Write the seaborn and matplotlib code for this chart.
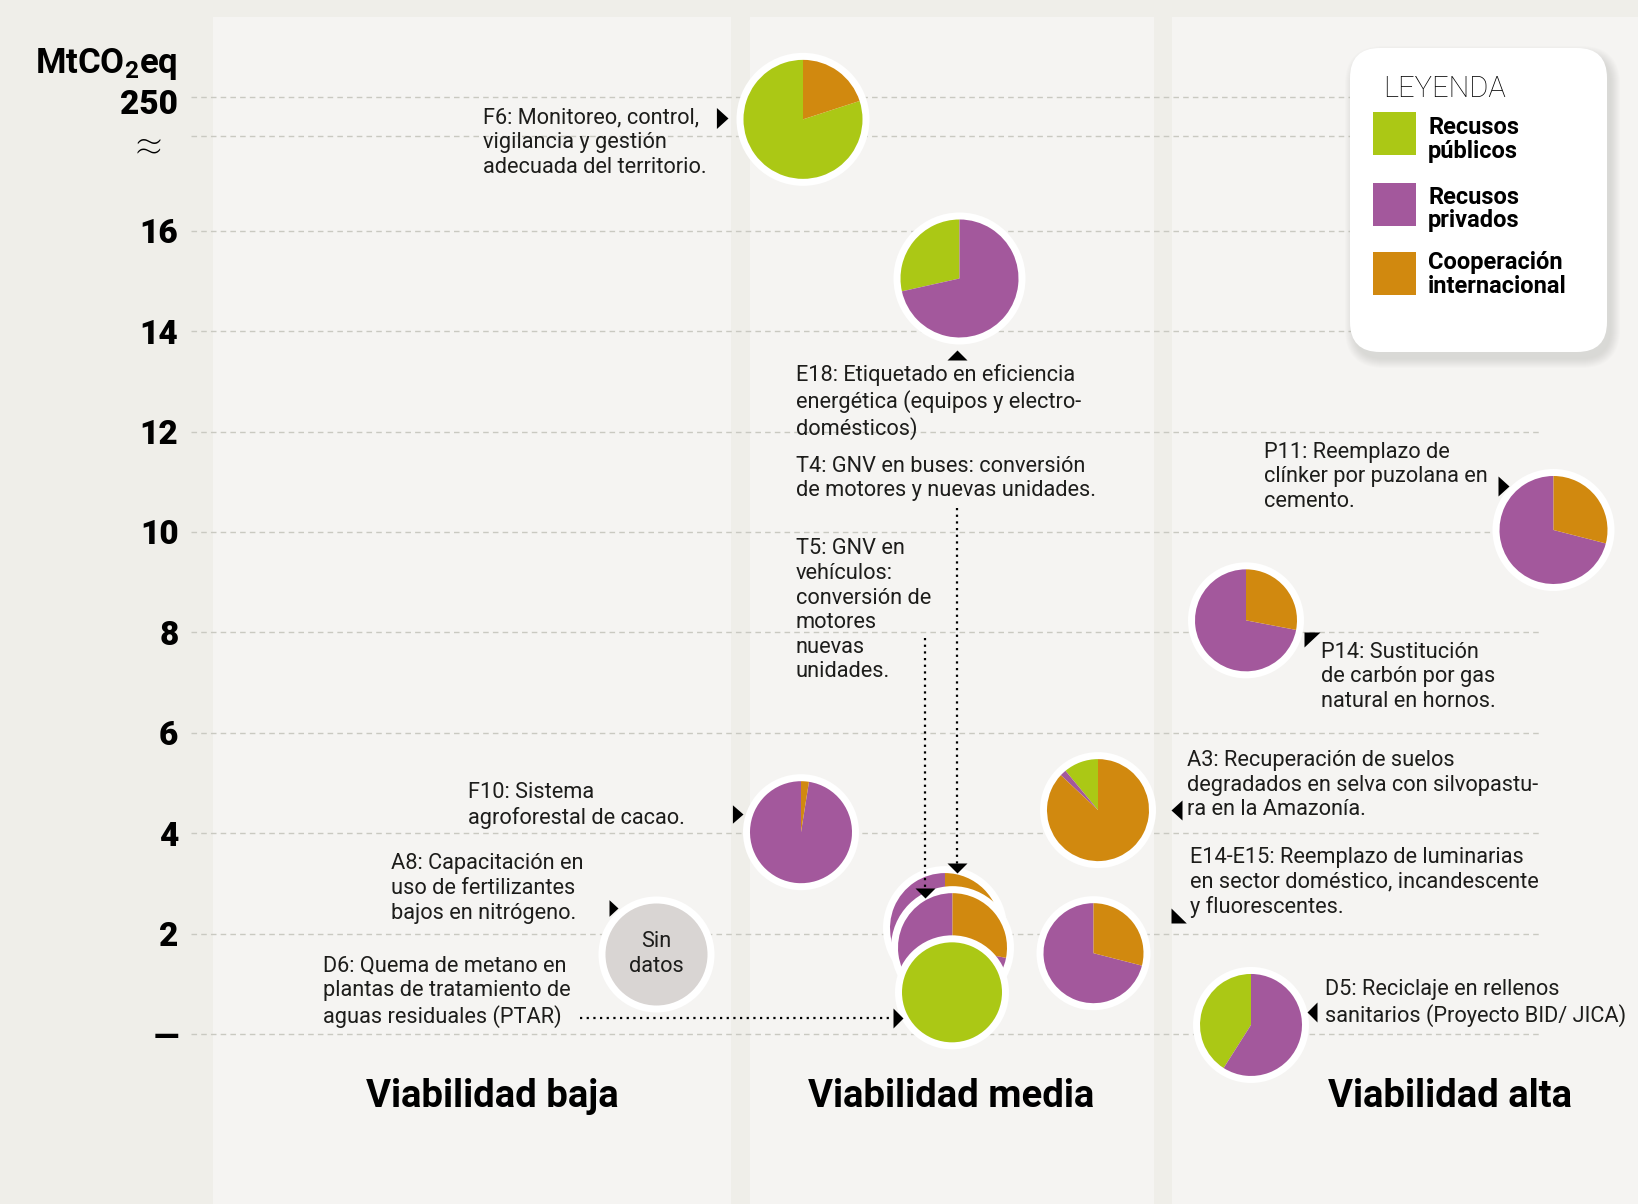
import numpy as np
import matplotlib
matplotlib.use("Agg")
import matplotlib.pyplot as plt
import matplotlib.transforms as mtransforms
from matplotlib.patches import Wedge, Circle, FancyBboxPatch, Rectangle
import seaborn as sns

# ---- datos ----
codigos = ["F6", "E18", "P11", "P14", "A3", "F10", "T4", "T5", "D6", "E14-E15", "D5"]
# posicion horizontal dentro de las columnas de viabilidad (1 unidad = 100 px)
pos_x = [6.12, 7.685, 13.625, 10.55, 9.07, 6.10, 7.54, 7.615, 7.61, 9.025, 10.60]
# MtCO2eq; F6 (250) se dibuja por encima del corte del eje
mtco2 = [18.22, 15.05, 10.04, 8.24, 4.46, 4.02, 2.11, 1.72, 0.83, 1.61, 0.18]
publicos = [80, 28.5, 0, 0, 11, 0, 0, 0, 100, 0, 41]
privados = [0, 71.5, 71, 72, 2, 97.5, 75, 72, 0, 71, 59]
cooperacion = [20, 0, 29, 28, 87, 2.5, 25, 28, 0, 29, 0]

# A8 no tiene datos de financiamiento
sin_datos_x = [4.65]
sin_datos_y = [1.59]

ytick_pos = [0, 2, 4, 6, 8, 10, 12, 14, 16, 17.89, 18.67]
ytick_lab = ["—", "2", "4", "6", "8", "10", "12", "14", "16", "", ""]
categorias = ["Viabilidad baja", "Viabilidad media", "Viabilidad alta"]
cat_x = [3.01, 7.60, 12.59]
leyenda = ["Recusos\npúblicos", "Recusos\nprivados", "Cooperación\ninternacional"]

# ---- estilo ----
VERDE, MORADO, NARANJA = "#abc815", "#a3589c", "#d1890f"
colores = [VERDE, MORADO, NARANJA]
FONDO, PANEL = "#efeee9", "#f5f4f2"
W, H, DPI = 1638, 1204, 100
radio_px = [59.5, 59, 54, 51, 51, 51, 55, 54.5, 50, 50, 51]
BORDE = 7

sns.set_theme(style="white")
plt.rcParams["font.family"] = ["Roboto", "DejaVu Sans"]
plt.rcParams["mathtext.fontset"] = "custom"
plt.rcParams["mathtext.bf"] = "Roboto:bold"
plt.rcParams["mathtext.rm"] = "Roboto:bold"
TXT = "#1d1d1b"

def X(px):
    return (px - 191) / 100

def Y(py):
    return (1034 - py) / 50.2

fig = plt.figure(figsize=(W / DPI, H / DPI), dpi=DPI, facecolor=FONDO)
ax = fig.add_axes([191 / W, 0, 1350 / W, 1])
ax.set_facecolor(FONDO)
ax.set_xlim(0, 13.5)
ax.set_ylim(Y(H), Y(0))
for s in ax.spines.values():
    s.set_visible(False)

# columnas de fondo
for a, b in [(213, 731), (750, 1154), (1172, 1640)]:
    ax.axvspan(X(a), X(b), ymin=0, ymax=(H - 17) / H, color=PANEL, zorder=0, lw=0, clip_on=False)

ax.set_xticks([])
ax.set_yticks(ytick_pos, ytick_lab)
ax.tick_params(axis="y", length=0, pad=9, labelsize=24, labelcolor="black")
for t in ax.get_yticklabels():
    t.set_fontweight("black")
ax.set_axisbelow(True)
ax.yaxis.grid(True, color="#c9c9c1", lw=1.0, ls=(0, (4, 3)), zorder=0.5)
# valor sobre el corte del eje
ax.text(X(178), Y(101), "250", fontsize=24, fontweight="black", ha="right", va="center_baseline",
        color="black")
ax.text(X(149), Y(149), "≈", fontsize=36, ha="center", va="center", color="black", fontweight="light")
ax.text(X(178), Y(73), r"$\mathbf{MtCO_2eq}$", fontsize=25, ha="right", va="baseline", color="black")

# tortas
def torta(x, y, partes, r_px, z):
    tr = fig.dpi_scale_trans + mtransforms.ScaledTranslation(x, y, ax.transData)
    r = r_px / DPI
    ax.add_patch(Circle((0, 0), r + BORDE / DPI, transform=tr, fc="white", ec="none", zorder=z, clip_on=False))
    total = sum(partes)
    start = 90
    for val, col in zip(partes, colores):
        if val <= 0:
            continue
        ang = 360 * val / total
        ax.add_patch(Wedge((0, 0), r, start, start + ang, transform=tr, fc=col, ec="none",
                           zorder=z + 0.005, clip_on=False))
        start += ang

for i in range(len(codigos)):
    torta(pos_x[i], mtco2[i], [publicos[i], privados[i], cooperacion[i]], radio_px[i], 3 + i * 0.01)

sns.scatterplot(x=sin_datos_x, y=sin_datos_y, s=6162, color="#d9d5d3", edgecolor="white",
                linewidth=5.04, ax=ax, zorder=3, legend=False)
ax.text(sin_datos_x[0], Y(931), "Sin\ndatos", fontsize=15.7, ha="center", va="top",
        color=TXT, linespacing=1.22, zorder=6)

# punteros
def punta(px, py, verts):
    v = np.array(verts, float)
    r = np.abs(v).max()
    ax.scatter([X(px)], [Y(py)], marker=v / r, s=(2 * r * 72 / DPI) ** 2, color="black",
               linewidths=0, zorder=6, clip_on=False)

punta(728.3, 117.8, [(0, 0), (-11.6, 10.5), (-11.6, -10.5)])   # F6
punta(956.7, 350, [(0, 0), (-10, -10), (10, -10)])             # E18
punta(956.7, 873, [(0, 0), (-10, 10), (10, 10)])               # T4
punta(924.5, 898, [(0, 0), (-10, 10), (10, 10)])               # T5
punta(903, 1018, [(0, 0), (-10, 10), (-10, -10)])              # D6
punta(743.3, 814, [(0, 0), (-10.6, 9.2), (-10.6, -9.2)])       # F10
punta(618.3, 908.3, [(0, 0), (-9, 8.3), (-9, -8.3)])           # A8
punta(1509.3, 486, [(0, 0), (-11, 10), (-11, -10)])            # P11
punta(1304, 632, [(0, 0), (16, 0), (0, -15)])                  # P14
punta(1170.7, 810, [(0, 0), (11, 10), (11, -10)])              # A3
punta(1170.7, 923, [(0, 0), (0, 15), (15.3, 0)])               # E14-E15
punta(1306.7, 1011.7, [(0, 0), (10, 10), (10, -10)])           # D5

pts = dict(color="black", lw=1.6, ls=(0, (1, 2)), zorder=5.5, clip_on=False)
ax.plot([X(956.7), X(956.7)], [Y(508), Y(864)], **pts)
ax.plot([X(924.5), X(924.5)], [Y(638), Y(888)], **pts)
ax.plot([X(580), X(893)], [Y(1018.3), Y(1018.3)], **pts)

# etiquetas (x izquierda, borde superior en px)
etiquetas = [
    ("F6: Monitoreo, control,\nvigilancia y gestión\nadecuada del territorio.", 482.7, 109.3),
    ("E18: Etiquetado en eficiencia\nenergética (equipos y electro-\ndomésticos)", 795.7, 366),
    ("T4: GNV en buses: conversión\nde motores y nuevas unidades.", 795.7, 457.3),
    ("T5: GNV en\nvehículos:\nconversión de\nmotores\nnuevas\nunidades.", 795.7, 540),
    ("F10: Sistema\nagroforestal de cacao.", 468.3, 783.3),
    ("A8: Capacitación en\nuso de fertilizantes\nbajos en nitrógeno.", 391, 855),
    ("D6: Quema de metano en\nplantas de tratamiento de\naguas residuales (PTAR)", 322.7, 956.7),
    ("P11: Reemplazo de\nclínker por puzolana en\ncemento.", 1264, 443.3),
    ("P14: Sustitución\nde carbón por gas\nnatural en hornos.", 1320.7, 643.3),
    ("A3: Recuperación de suelos\ndegradados en selva con silvopastu-\nra en la Amazonía.", 1186.7, 751.7),
    ("E14-E15: Reemplazo de luminarias\nen sector doméstico, incandescente\ny fluorescentes.", 1190, 848.3),
    ("D5: Reciclaje en rellenos\nsanitarios (Proyecto BID/ JICA)", 1325, 981),
]
for txt, px, py in etiquetas:
    ax.text(X(px), Y(py - 1.5), txt, fontsize=15.7, ha="left", va="top", color=TXT,
            linespacing=1.22, zorder=6, clip_on=False)

for c, cx in zip(categorias, cat_x):
    ax.text(cx, Y(1107), c, fontsize=27.5, fontweight="bold", ha="center", va="baseline", color="black")

# leyenda
lax = fig.add_axes([0, 0, 1, 1], zorder=5)
lax.set_xlim(0, W)
lax.set_ylim(H, 0)
lax.axis("off")
for k in range(10):
    lax.add_patch(FancyBboxPatch((1350 + 4 - k, 48 + 7 - k), 257 + 2 * k, 304 + 2 * k,
                                 boxstyle="round,pad=0,rounding_size=%d" % (30 + k),
                                 fc="#8a8a85", ec="none", alpha=0.022))
lax.add_patch(FancyBboxPatch((1350, 48), 257, 304, boxstyle="round,pad=0,rounding_size=30",
                             fc="white", ec="none"))
lax.text(1383, 97, "LEYENDA", fontsize=21, fontweight="light", color="black", va="baseline")
sw_y = [112, 183, 252]
lab_top = [116, 185.5, 251.5]
for col, lab, sy, ty in zip(colores, leyenda, sw_y, lab_top):
    lax.add_patch(Rectangle((1373, sy), 43, 43, fc=col, ec="none"))
    lax.text(1428, ty, lab, fontsize=17, fontweight="bold", color="black", va="top",
             linespacing=1.05)

fig.savefig("out.png", dpi=DPI, facecolor=FONDO)
